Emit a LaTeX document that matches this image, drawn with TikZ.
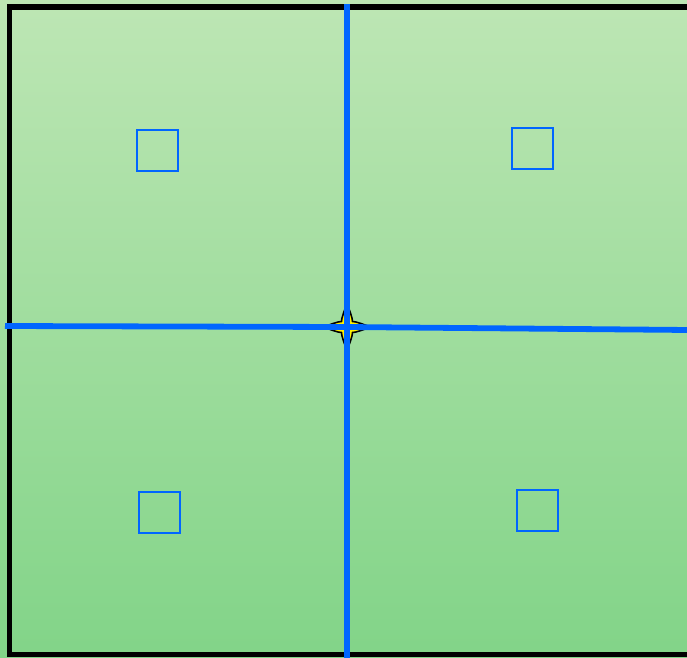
\documentclass[tikz,border=0pt]{standalone}
\usepackage{tikz}

\definecolor{fieldtop}{HTML}{BDE6B4}
\definecolor{fieldbot}{HTML}{82D488}
\definecolor{lineblue}{HTML}{0066FF}

\begin{document}
\begin{tikzpicture}[
    x=0.02cm, y=-0.02cm,
    cell/.style={
        rectangle,
        draw=lineblue,
        line width=1.2pt,
        minimum size=0.82cm,
        inner sep=0pt
    },
    axis/.style={
        draw=lineblue,
        line width=3.3pt
    },
    spark/.style={
        fill=yellow,
        draw=black,
        line width=0.9pt,
        line join=miter
    }
]

% Background and frame
\useasboundingbox (0,0) rectangle (687,657);
\clip (0,0) rectangle (687,657);
\shade[top color=fieldtop, bottom color=fieldbot] (0,0) rectangle (687,657);
\draw[line width=3pt] (720,7) -- (9.5,7) -- (9.5,654.5) -- (720,654.5);

% Centre mark (four-pointed star)
\coordinate (centre) at (347,327);
\begin{scope}[shift={(347,327)}]
\draw[spark]
    (24,0) .. controls (15,-3) and (9,-5.5) .. (5.5,-5.5)
           .. controls (5.5,-9) and (3,-15) .. (0,-24)
           .. controls (-3,-15) and (-5.5,-9) .. (-5.5,-5.5)
           .. controls (-9,-5.5) and (-15,-3) .. (-24,0)
           .. controls (-15,3) and (-9,5.5) .. (-5.5,5.5)
           .. controls (-5.5,9) and (-3,15) .. (0,24)
           .. controls (3,15) and (5.5,9) .. (5.5,5.5)
           .. controls (9,5.5) and (15,3) .. (24,0) -- cycle;
\end{scope}

% Axis end points
\coordinate (west)  at (5,326);
\coordinate (east)  at (690,330);
\coordinate (north) at (347,4);
\coordinate (south) at (347,660);

% Axes
\draw[axis] (west) -- (centre) -- (east);
\draw[axis] (north) -- (south);

% Quadrant cells
\node[cell] (nw) at (157.5,150.5) {};
\node[cell] (ne) at (532.5,148.5) {};
\node[cell] (sw) at (159.5,512.5) {};
\node[cell] (se) at (537.5,510.5) {};

\end{tikzpicture}
\end{document}
